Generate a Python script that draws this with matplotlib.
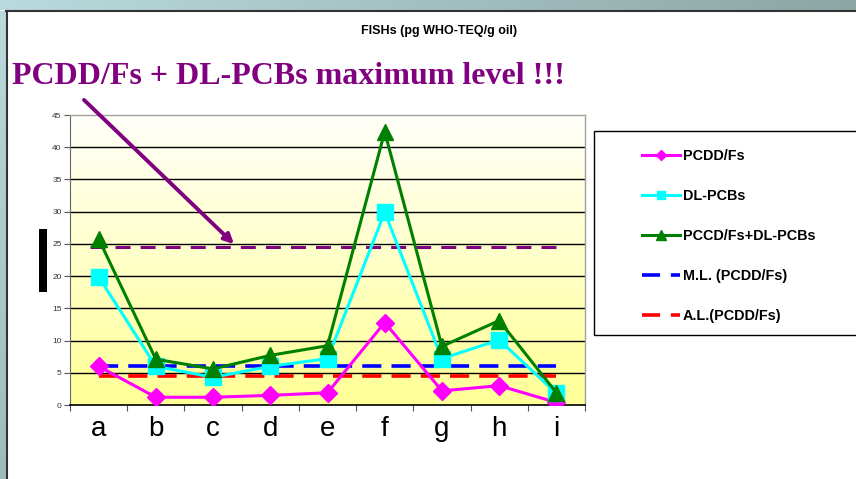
import numpy as np
import matplotlib
matplotlib.use("Agg")
import matplotlib.pyplot as plt
from matplotlib.lines import Line2D
from matplotlib.patches import Rectangle

# ---- data ----
categories = ['a', 'b', 'c', 'd', 'e', 'f', 'g', 'h', 'i']
pcdd_fs = [6.0, 1.2, 1.2, 1.5, 1.9, 12.8, 2.2, 3.0, 0.4]
dl_pcbs = [19.9, 6.0, 4.3, 6.0, 7.2, 29.9, 7.2, 10.1, 1.8]
total = [25.8, 7.1, 5.6, 7.7, 9.2, 42.4, 9.1, 13.1, 1.9]
ml_value = 6.0
al_value = 4.5
max_level = 24.5
series_labels = ['PCDD/Fs', 'DL-PCBs', 'PCCD/Fs+DL-PCBs', 'M.L. (PCDD/Fs)', 'A.L.(PCDD/Fs)']
y_ticks = [0, 5, 10, 15, 20, 25, 30, 35, 40, 45]

W, H = 856, 479
fig = plt.figure(figsize=(W / 100, H / 100), dpi=100)
fig.patch.set_facecolor('white')

def fx(px):
    return px / W

def fy(py):
    return 1 - py / H

# ---- slide frame ----
band = fig.add_axes([0, fy(10.5), 1, 10.5 / H])
grad = np.linspace(0, 1, 256)[None, :, None]
c1 = np.array([186, 218, 221]) / 255
c2 = np.array([140, 166, 164]) / 255
band.imshow(c1 + (c2 - c1) * grad, aspect='auto', extent=[0, 1, 0, 1])
band.set_axis_off()
left = fig.add_axes([0, 0, 6 / W, fy(10.5)])
gradv = np.linspace(0, 1, 256)[:, None, None]
l1 = np.array([186, 218, 221]) / 255
l2 = np.array([160, 186, 186]) / 255
left.imshow(l1 + (l2 - l1) * gradv, aspect='auto', extent=[0, 1, 0, 1])
left.set_axis_off()
fig.add_artist(Line2D([fx(6), 1], [fy(11), fy(11)], color='#333333', lw=1.5))
fig.add_artist(Line2D([fx(6.5), fx(6.5)], [0, fy(11)], color='#333333', lw=1.5))

# ---- titles ----
fig.text(fx(439), fy(31), 'FISHs (pg WHO-TEQ/g oil)', ha='center', va='center',
         fontsize=9, fontweight='bold', family='Liberation Sans')
fig.text(fx(12), fy(76), 'PCDD/Fs + DL-PCBs maximum level !!!', ha='left', va='center',
         fontsize=23, fontweight='bold', family='Liberation Serif', color='#800080')

# black rotated y-label block
fig.add_artist(Rectangle((fx(39), fy(292)), 8 / W, 63 / H, transform=fig.transFigure,
                         facecolor='black', edgecolor='none'))

# ---- axes ----
ax = fig.add_axes([fx(70), fy(405), 515 / W, 290 / H])
x = np.arange(len(categories))
ax.set_xlim(-0.5, len(categories) - 0.5)
ax.set_ylim(0, 45)

gv = np.linspace(0, 1, 256)[:, None, None]
top = np.array([255, 255, 250]) / 255
bot = np.array([255, 255, 150]) / 255
ax.imshow(top + (bot - top) * gv, aspect='auto', extent=[-0.5, len(categories) - 0.5, 0, 45],
          zorder=0)

for yv in y_ticks[1:-1]:
    ax.axhline(yv, color='black', lw=1, zorder=1)

# max level line (drawn shape)
ax.plot([-0.15, 8.12], [max_level, max_level], color='#800080', lw=2.2,
        dashes=(4.9, 3.3), zorder=2)

ax.plot(x, [ml_value] * len(x), color='#0000FF', lw=2.6, dashes=(5.3, 2.8), zorder=2)
ax.plot(x, [al_value] * len(x), color='#FF0000', lw=2.6, dashes=(5.3, 2.8), zorder=2)

ax.plot(x, pcdd_fs, color='#FF00FF', lw=2.2, marker='D', ms=9.5, mec='#FF00FF', zorder=3)
ax.plot(x, dl_pcbs, color='#00FFFF', lw=2.2, marker='s', ms=11, mec='#00FFFF', zorder=4)
ax.plot(x, total, color='#008000', lw=2.2, marker='^', ms=12, mec='#008000', zorder=5)

ax.set_yticks(y_ticks)
ax.set_yticklabels([str(v) for v in y_ticks], fontsize=6, color='#333333',
                   family='Liberation Sans')
ax.tick_params(axis='y', length=4, width=0.8, color='#555555', pad=2)
ax.set_xticks(x)
ax.set_xticklabels(categories, fontsize=20, family='Liberation Sans')
ax.tick_params(axis='x', length=0, pad=8)
ax.set_xticks(np.arange(-0.5, len(categories), 1), minor=True)
ax.tick_params(axis='x', which='minor', length=4, width=0.8, color='#555555')

for s in ['top', 'right']:
    ax.spines[s].set_color('#a0a0a0')
    ax.spines[s].set_linewidth(1)
ax.spines['left'].set_color('#666666')
ax.spines['bottom'].set_color('black')
ax.spines['bottom'].set_linewidth(1.2)

# ---- arrow ----
fig.patches.append(matplotlib.patches.FancyArrowPatch(
    (fx(82), fy(98)), (fx(236), fy(246)), transform=fig.transFigure,
    arrowstyle='-|>', mutation_scale=14, color='#800080', lw=2.8))

# ---- legend ----
fig.add_artist(Rectangle((fx(594), fy(335)), 300 / W, 204 / H, transform=fig.transFigure,
                         facecolor='white', edgecolor='black', lw=1))
handles = [
    Line2D([], [], color='#FF00FF', lw=2.2, marker='D', ms=5),
    Line2D([], [], color='#00FFFF', lw=2.2, marker='s', ms=6),
    Line2D([], [], color='#008000', lw=2.2, marker='^', ms=7),
    Line2D([], [], color='#0000FF', lw=2.6, dashes=(5.0, 3.0)),
    Line2D([], [], color='#FF0000', lw=2.6, dashes=(5.0, 3.0)),
]
leg = fig.legend(handles, series_labels, loc='upper left',
                 bbox_to_anchor=(fx(641.5), fy(149.5)), frameon=False,
                 prop={'family': 'Liberation Sans', 'weight': 'bold', 'size': 10.4},
                 handlelength=2.65, handletextpad=0.2, labelspacing=1.79,
                 borderpad=0, borderaxespad=0)

fig.savefig('out.png', dpi=100)
